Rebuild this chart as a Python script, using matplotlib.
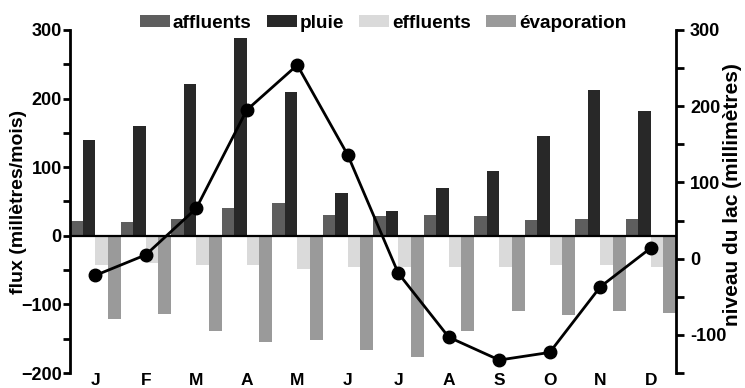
import matplotlib
matplotlib.use("Agg")
import matplotlib.pyplot as plt
import numpy as np
from matplotlib.ticker import MultipleLocator

plt.rcParams['font.family'] = ['Liberation Sans', 'DejaVu Sans']
plt.rcParams['font.weight'] = 'bold'

# Données
mois = ['J', 'F', 'M', 'A', 'M', 'J', 'J', 'A', 'S', 'O', 'N', 'D']
affluents = [21, 20, 24, 41, 48, 30, 29, 31, 29, 23, 24, 25]
pluie = [139, 160, 221, 289, 210, 62, 36, 69, 94, 146, 212, 182]
effluents = [-42, -39, -43, -43, -49, -46, -46, -46, -45, -43, -42, -46]
evaporation = [-121, -114, -139, -155, -152, -166, -176, -139, -110, -116, -110, -113]
niveau_lac = [-22, 5, 66, 195, 254, 136, -19, -103, -133, -123, -37, 14]

couleurs = ['#5e5e5e', '#282828', '#dadada', '#9a9a9a']
noms = ['affluents', 'pluie', 'effluents', 'évaporation']

fig = plt.figure(figsize=(7.45, 3.88), dpi=100)
ax = fig.add_axes([70/745, 15/388, 606/745, 343/388])

x = np.arange(len(mois))
w = 0.25
series = [affluents, pluie, effluents, evaporation]
barres = []
for i, s in enumerate(series):
    b = ax.bar(x - 0.375 + i*w, s, width=w, color=couleurs[i], edgecolor='none', label=noms[i])
    barres.append(b)

ax.axhline(0, color='black', lw=1.6)
ax.set_xlim(-0.5, 11.5)
ax.set_ylim(-200, 300)
ax.yaxis.set_major_locator(MultipleLocator(100))
ax.yaxis.set_minor_locator(MultipleLocator(50))
ax.set_xticks(x)
ax.set_xticklabels(mois, fontsize=12.5, fontweight='bold')
ax.tick_params(axis='x', length=0, pad=0)
ax.tick_params(axis='y', which='both', direction='out', length=5, width=2, labelsize=13, pad=1)
for sp in ['top', 'bottom', 'right']:
    ax.spines[sp].set_visible(False)
ax.spines['left'].set_linewidth(2)
ax.set_ylabel('flux (millètres/mois)', fontsize=14, fontweight='bold')
ax.yaxis.set_label_coords(-0.071, 0.5)

# niveau du lac, axe de droite
ax2 = ax.twinx()
ax2.plot(x, niveau_lac, marker='o', color='black', lw=2, ms=9)
ax2.set_ylim(-150, 300)
ax2.set_yticks(np.arange(-150, 301, 50))
ax2.set_yticklabels(['' if v % 100 else str(v) for v in range(-150, 301, 50)])
ax2.tick_params(axis='y', direction='out', length=6, width=2, labelsize=13, pad=4)
for sp in ['top', 'bottom', 'left']:
    ax2.spines[sp].set_visible(False)
ax2.spines['right'].set_linewidth(2)
ax2.set_ylabel('niveau du lac (millimètres)', fontsize=15, fontweight='bold')
ax2.yaxis.set_label_coords(1.077, 0.52)

fig.legend(handles=barres, labels=noms, loc='center', bbox_to_anchor=(383/745, 1 - 23/388),
           ncol=4, frameon=False, handlelength=1.6, handleheight=0.55,
           handletextpad=0.15, columnspacing=0.8, borderaxespad=0, prop={'weight': 'bold', 'size': 13.6})

fig.savefig('out.png', dpi=100)
